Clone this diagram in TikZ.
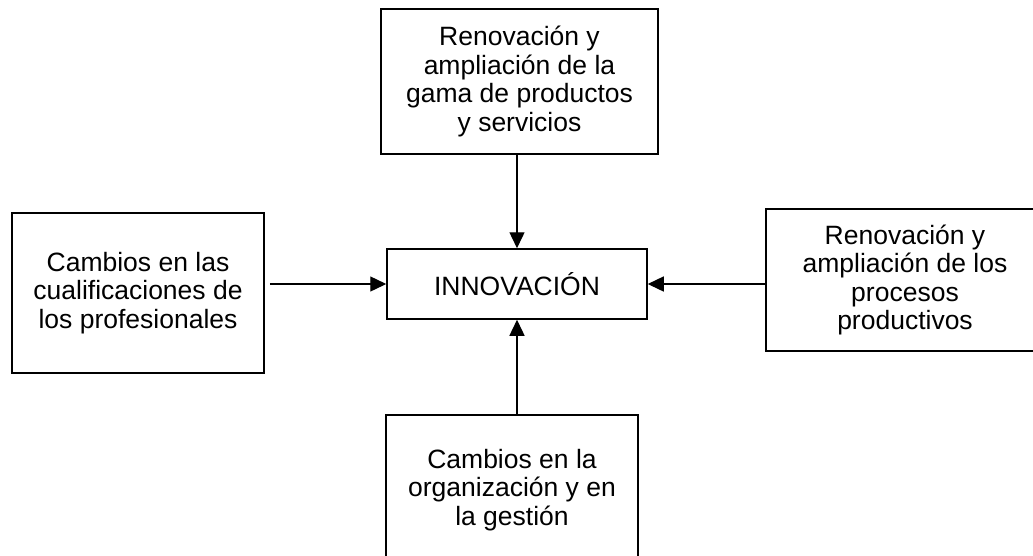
\documentclass[tikz,border=0pt]{standalone}
\usepackage{fontspec}
\setmainfont{Liberation Sans}
\usetikzlibrary{arrows.meta}
\tikzset{
  box/.style={draw=black, line width=1.5pt, rectangle, align=center, inner sep=0pt,
    font=\fontsize{26.5}{28.5}\selectfont},
  arr/.style={line width=1.4pt, -{Triangle[length=16pt,width=15pt]}}
}
\begin{document}
\begin{tikzpicture}[x=1pt,y=-1pt]
\useasboundingbox (0,0) rectangle (1033,555);
\clip (0,0) rectangle (1033,555);
\fill[white] (0,0) rectangle (1033,555);
\node[box, minimum width=277pt, minimum height=145pt] (top) at (519.5,81.5)
  {Renovación y\\ampliación de la\\gama de productos\\y servicios};
\node[box, minimum width=260pt, minimum height=70pt] (inn) at (517,284) {INNOVACIÓN};
\node[box, minimum width=252pt, minimum height=160pt] (left) at (138,293)
  {Cambios en las\\cualificaciones de\\los profesionales};
\node[box, minimum width=278pt, minimum height=142pt] (right) at (905,280)
  {Renovación y\\ampliación de los\\procesos\\productivos};
\node[box, minimum width=252pt, minimum height=150pt] (bot) at (512,490)
  {Cambios en la\\organización y en\\la gestión};
\draw[arr] (top.south -| inn.north) -- (inn.north);
\draw[arr, shorten <=5pt] (left.east |- inn.west) -- (inn.west);
\draw[arr] (right.west |- inn.east) -- (inn.east);
\draw[arr] (bot.north -| inn.south) -- (inn.south);
\end{tikzpicture}
\end{document}
